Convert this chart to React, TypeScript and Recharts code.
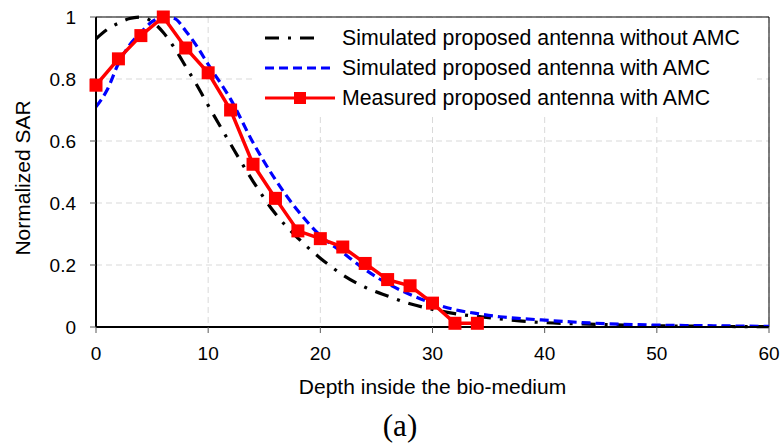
import {
  CartesianGrid,
  Label,
  Legend,
  Line,
  LineChart,
  ReferenceLine,
  XAxis,
  YAxis,
} from "recharts";

// depth grid for the two simulated curves
const simDepth = [0, 1, 2, 3, 4, 5, 6, 7, 8, 9, 10, 12, 14, 16, 18, 20, 22, 24, 26, 28, 30, 32, 34, 36, 38, 40, 44, 50, 55, 60];
const sarNoAmc = [0.93, 0.96, 0.98, 0.995, 1.0, 0.985, 0.95, 0.9, 0.84, 0.78, 0.715, 0.59, 0.47, 0.365, 0.287, 0.222, 0.168, 0.128, 0.1, 0.075, 0.057, 0.043, 0.034, 0.026, 0.019, 0.014, 0.009, 0.004, 0.002, 0.001];
const sarWithAmc = [0.71, 0.765, 0.85, 0.91, 0.95, 0.985, 1.0, 0.995, 0.955, 0.905, 0.847, 0.735, 0.595, 0.475, 0.375, 0.295, 0.24, 0.185, 0.14, 0.105, 0.077, 0.056, 0.043, 0.033, 0.027, 0.022, 0.013, 0.006, 0.004, 0.002];

// measured points
const measDepth = [0, 2, 4, 6, 8, 10, 12, 14, 16, 18, 20, 22, 24, 26, 28, 30, 32, 34];
const sarMeasured = [0.78, 0.865, 0.94, 1.0, 0.9, 0.82, 0.7, 0.525, 0.415, 0.31, 0.285, 0.258, 0.205, 0.153, 0.133, 0.077, 0.012, 0.012];

const xTicks = [0, 10, 20, 30, 40, 50, 60];
const yTicks = [0, 0.2, 0.4, 0.6, 0.8, 1];

const seriesNames = [
  "Simulated proposed antenna without AMC",
  "Simulated proposed antenna with AMC",
  "Measured proposed antenna with AMC",
];

const simData = simDepth.map((d, i) => ({ depth: d, noAmc: sarNoAmc[i], withAmc: sarWithAmc[i] }));
const measData = measDepth.map((d, i) => ({ depth: d, measured: sarMeasured[i] }));

const font = "'Liberation Sans', Arial, sans-serif";

function Square(props: any) {
  const { cx, cy, index } = props;
  if (cx == null || cy == null) return null;
  return <rect key={index} x={cx - 6.5} y={cy - 6.5} width={13} height={13} fill="#ff0000" />;
}

function LegendIcon({ kind }: { kind: number }) {
  if (kind === 0)
    return (
      <svg width={70} height={12}>
        <line x1={0} y1={6} x2={58} y2={6} stroke="#000" strokeWidth={3} strokeDasharray="14 9 3 9" />
      </svg>
    );
  if (kind === 1)
    return (
      <svg width={70} height={12}>
        <line x1={0} y1={6} x2={70} y2={6} stroke="#0000ff" strokeWidth={3} strokeDasharray="9 5" />
      </svg>
    );
  return (
    <svg width={70} height={14}>
      <line x1={0} y1={7} x2={70} y2={7} stroke="#ff0000" strokeWidth={3} />
      <rect x={29} y={1} width={12} height={12} fill="#ff0000" />
    </svg>
  );
}

function LegendBox() {
  return (
    <div style={{ background: "#fff", padding: "5px 0 0 13px", height: 90, boxSizing: "content-box" }}>
      {seriesNames.map((name, i) => (
        <div key={name} style={{ display: "flex", alignItems: "center", height: 30 }}>
          <LegendIcon kind={i} />
          <span style={{ marginLeft: 7, fontFamily: font, fontSize: 21.3, color: "#000", whiteSpace: "nowrap" }}>
            {name}
          </span>
        </div>
      ))}
    </div>
  );
}

export default function App() {
  return (
    <div style={{ position: "absolute", left: 0, top: 0, width: 783, height: 443, background: "#fff" }}>
      <LineChart width={783} height={443} margin={{ top: 17, right: 14, bottom: 86, left: 36 }}>
        <CartesianGrid stroke="#d9d9d9" strokeDasharray="6 4" />
        <XAxis
          type="number"
          dataKey="depth"
          domain={[0, 60]}
          ticks={xTicks}
          height={30}
          axisLine={{ stroke: "#000", strokeWidth: 2 }}
          tickLine={{ stroke: "#595959" }}
          tickSize={6}
          tickMargin={14}
          tick={{ fill: "#000", fontSize: 19, fontFamily: font }}
          allowDuplicatedCategory={false}
        >
          <Label
            value="Depth inside the bio-medium"
            position="bottom"
            offset={22}
            style={{ fill: "#000", fontSize: 21, fontFamily: font }}
          />
        </XAxis>
        <YAxis
          type="number"
          domain={[0, 1]}
          ticks={yTicks}
          width={60}
          axisLine={{ stroke: "#000", strokeWidth: 2 }}
          tickLine={{ stroke: "#595959" }}
          tickSize={6}
          tickMargin={14}
          tick={{ fill: "#000", fontSize: 19, fontFamily: font }}
          tickFormatter={(v: number) => String(v)}
        >
          <Label
            content={() => (
              <text
                x={22}
                y={178}
                transform="rotate(-90 22 178)"
                textAnchor="middle"
                dominantBaseline="central"
                style={{ fill: "#000", fontSize: 21, fontFamily: font }}
              >
                Normalized SAR
              </text>
            )}
          />
        </YAxis>
        <ReferenceLine y={1} stroke="#000" strokeWidth={1} />
        <ReferenceLine x={60} stroke="#000" strokeWidth={1} />
        <Line
          data={simData}
          dataKey="noAmc"
          name={seriesNames[0]}
          type="monotone"
          stroke="#000"
          strokeWidth={3.2}
          strokeDasharray="14 9 3 9"
          dot={false}
          activeDot={false}
          isAnimationActive={false}
        />
        <Line
          data={simData}
          dataKey="withAmc"
          name={seriesNames[1]}
          type="monotone"
          stroke="#0000ff"
          strokeWidth={3.2}
          strokeDasharray="9 5"
          dot={false}
          activeDot={false}
          isAnimationActive={false}
        />
        <Line
          data={measData}
          dataKey="measured"
          name={seriesNames[2]}
          type="linear"
          stroke="#ff0000"
          strokeWidth={3.5}
          dot={<Square />}
          activeDot={false}
          isAnimationActive={false}
        />
        <Legend
          layout="vertical"
          align="center"
          verticalAlign="middle"
          content={() => <LegendBox />}
          wrapperStyle={{ top: 18, left: 252, width: 505, height: 95 }}
        />
      </LineChart>
      <div
        style={{
          position: "absolute",
          left: 350,
          width: 100,
          top: 410,
          textAlign: "center",
          fontFamily: "'Liberation Serif', 'Times New Roman', serif",
          fontSize: 31,
          lineHeight: 1,
          color: "#000",
        }}
      >
        (a)
      </div>
    </div>
  );
}
